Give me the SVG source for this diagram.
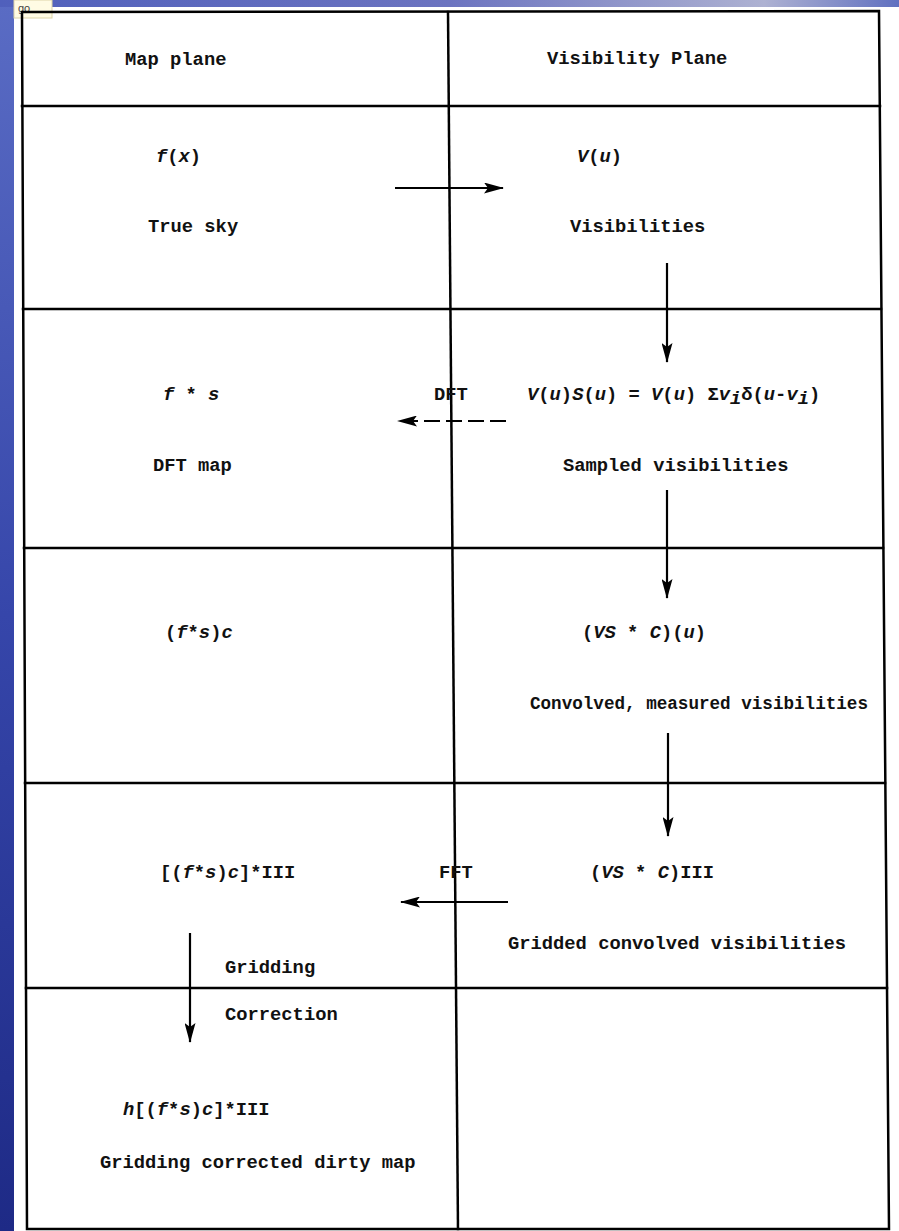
<svg xmlns="http://www.w3.org/2000/svg" width="899" height="1231" viewBox="0 0 899 1231">
<defs>
<linearGradient id="bgL" x1="0" y1="0" x2="0" y2="1">
<stop offset="0" stop-color="#5a6cc4"/>
<stop offset="0.5" stop-color="#3646aa"/>
<stop offset="1" stop-color="#1e2a86"/>
</linearGradient>
<linearGradient id="bgT" x1="0" y1="0" x2="1" y2="0">
<stop offset="0" stop-color="#5060bc"/>
<stop offset="0.5" stop-color="#6c74c0"/>
<stop offset="0.85" stop-color="#aeb2d2"/>
<stop offset="1" stop-color="#6070c0"/>
</linearGradient>
<marker id="ah" viewBox="0 0 20 11" refX="19" refY="5.5" markerWidth="20" markerHeight="11" markerUnits="userSpaceOnUse" orient="auto">
<path d="M0,0 L20,5.5 L0,11 L4,5.5 z" fill="#000"/>
</marker>
</defs>
<style>
.t{font-family:"Liberation Mono","DejaVu Sans Mono",monospace;font-size:18.8px;font-weight:bold;fill:#111}
.m{font-style:italic}
.ln{stroke:#000;stroke-width:2.5;fill:none;stroke-linecap:square}
.ar{stroke:#000;stroke-width:2.2;fill:none;marker-end:url(#ah)}
.da{stroke:#000;stroke-width:2.2;fill:none;stroke-dasharray:16 6;marker-end:url(#ah)}
</style>
<rect x="0" y="0" width="899" height="1231" fill="#fff"/>
<rect x="0" y="0" width="14" height="1231" fill="url(#bgL)"/>
<rect x="0" y="0" width="899" height="7" fill="url(#bgT)"/>
<g id="label">
<rect x="14" y="0" width="38" height="18" fill="#fffbe4" stroke="#ddd4a8" stroke-width="1"/>
<text x="18" y="12" font-family="Liberation Sans, sans-serif" font-size="11" fill="#444">go</text>
</g>
<g id="table">
<path class="ln" d="M22,12 L879,11 L889,1229 L27,1229 Z"/>
<line class="ln" x1="22" y1="106" x2="880" y2="106"/>
<line class="ln" x1="23" y1="309" x2="881" y2="309"/>
<line class="ln" x1="24" y1="548" x2="883" y2="548"/>
<line class="ln" x1="25" y1="783" x2="885" y2="783"/>
<line class="ln" x1="26" y1="988" x2="887" y2="988"/>
<line class="ln" x1="448" y1="12" x2="458" y2="1229"/>
</g>
<g id="header">
<text class="t" x="125" y="65">Map plane</text>
<text class="t" x="547" y="64">Visibility Plane</text>
</g>
<g id="row-true-sky">
<text class="t" x="156" y="162"><tspan class="m">f</tspan>(<tspan class="m">x</tspan>)</text>
<text class="t" x="148" y="232">True sky</text>
</g>
<g id="row-visibilities">
<text class="t" x="577" y="162"><tspan class="m">V</tspan>(<tspan class="m">u</tspan>)</text>
<text class="t" x="570" y="232">Visibilities</text>
</g>
<g id="row-dft-map">
<text class="t" x="163" y="400"><tspan class="m">f</tspan> * <tspan class="m">s</tspan></text>
<text class="t" x="153" y="471">DFT map</text>
</g>
<g id="row-sampled">
<text class="t" x="527" y="400"><tspan class="m">V</tspan>(<tspan class="m">u</tspan>)<tspan class="m">S</tspan>(<tspan class="m">u</tspan>) = <tspan class="m">V</tspan>(<tspan class="m">u</tspan>) Σ<tspan class="m">v</tspan><tspan class="m" dy="4">i</tspan><tspan dy="-4">δ(</tspan><tspan class="m">u</tspan>-<tspan class="m">v</tspan><tspan class="m" dy="4">i</tspan><tspan dy="-4">)</tspan></text>
<text class="t" x="563" y="471">Sampled visibilities</text>
</g>
<g id="row-fsc">
<text class="t" x="165" y="638">(<tspan class="m">f</tspan>*<tspan class="m">s</tspan>)<tspan class="m">c</tspan></text>
</g>
<g id="row-convolved">
<text class="t" x="582" y="638">(<tspan class="m">VS</tspan> * <tspan class="m">C</tspan>)(<tspan class="m">u</tspan>)</text>
<text class="t" x="530" y="709" textLength="338" lengthAdjust="spacingAndGlyphs">Convolved, measured visibilities</text>
</g>
<g id="row-fft-map">
<text class="t" x="160" y="878">[(<tspan class="m">f</tspan>*<tspan class="m">s</tspan>)<tspan class="m">c</tspan>]*III</text>
</g>
<g id="row-gridded">
<text class="t" x="590" y="878">(<tspan class="m">VS</tspan> * <tspan class="m">C</tspan>)III</text>
<text class="t" x="508" y="949">Gridded convolved visibilities</text>
</g>
<g id="row-corrected">
<text class="t" x="123" y="1115"><tspan class="m">h</tspan>[(<tspan class="m">f</tspan>*<tspan class="m">s</tspan>)<tspan class="m">c</tspan>]*III</text>
<text class="t" x="100" y="1168">Gridding corrected dirty map</text>
</g>
<g id="labels">
<text class="t" x="434" y="400">DFT</text>
<text class="t" x="439" y="878">FFT</text>
<text class="t" x="225" y="973">Gridding</text>
<text class="t" x="225" y="1020">Correction</text>
</g>
<g id="connectors">
<line class="ar" x1="395" y1="188" x2="503" y2="188"/>
<line class="ar" x1="667" y1="263" x2="667" y2="362"/>
<line class="da" x1="506" y1="421" x2="398" y2="421"/>
<line class="ar" x1="667" y1="490" x2="667" y2="598"/>
<line class="ar" x1="668" y1="733" x2="668" y2="836"/>
<line class="ar" x1="508" y1="902" x2="401" y2="902"/>
<line class="ar" x1="190" y1="933" x2="190" y2="1042"/>
</g>
</svg>
